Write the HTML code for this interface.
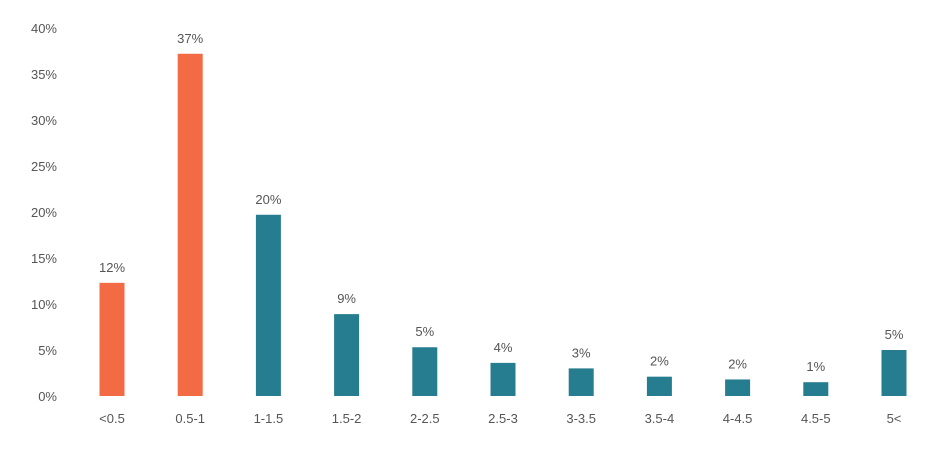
<!DOCTYPE html>
<html><head><meta charset="utf-8">
<style>
body{margin:0;background:#fff;font-family:"Liberation Sans",sans-serif;}
svg text{font-family:"Liberation Sans",sans-serif;font-size:13px;fill:#555;}
</style></head>
<body>
<svg id="chart" width="942" height="445" viewBox="0 0 942 445" xmlns="http://www.w3.org/2000/svg"></svg>
<script>
const categories = ["<0.5","0.5-1","1-1.5","1.5-2","2-2.5","2.5-3","3-3.5","3.5-4","4-4.5","4.5-5","5<"];
const values = [12.3,37.2,19.7,8.9,5.3,3.6,3.0,2.1,1.8,1.5,5.0];
const valueLabels = ["12%","37%","20%","9%","5%","4%","3%","2%","2%","1%","5%"];
const highlighted = [true,true,false,false,false,false,false,false,false,false,false];
const yTicks = [0,5,10,15,20,25,30,35,40];

const svg = document.getElementById('chart');
const NS = "http://www.w3.org/2000/svg";
const y0 = 396, pxPerPct = 9.2;
const yScale = v => y0 - v * pxPerPct;
const xScale = i => 112 + i * 78.2;
const barW = 25;

yTicks.forEach(t => {
  const tx = document.createElementNS(NS, 'text');
  
  
  tx.setAttribute('x', 57);
  tx.setAttribute('y', yScale(t) + 5);
  tx.setAttribute('text-anchor', 'end');
  tx.textContent = t + '%';
  svg.appendChild(tx);
});

categories.forEach((c, i) => {
  const cx = xScale(i);
  const r = document.createElementNS(NS, 'rect');
  
  
  r.setAttribute('x', cx - barW / 2);
  r.setAttribute('y', yScale(values[i]));
  r.setAttribute('width', barW);
  r.setAttribute('height', values[i] * pxPerPct);
  r.setAttribute('fill', highlighted[i] ? '#F26B45' : '#267D8F');
  svg.appendChild(r);

  const vl = document.createElementNS(NS, 'text');
  
  
  vl.setAttribute('x', cx);
  vl.setAttribute('y', yScale(values[i]) - 11);
  vl.setAttribute('text-anchor', 'middle');
  vl.textContent = valueLabels[i];
  svg.appendChild(vl);

  const xl = document.createElementNS(NS, 'text');
  
  
  xl.setAttribute('x', cx);
  xl.setAttribute('y', 423);
  xl.setAttribute('text-anchor', 'middle');
  xl.textContent = c;
  svg.appendChild(xl);
});
</script>
</body></html>
